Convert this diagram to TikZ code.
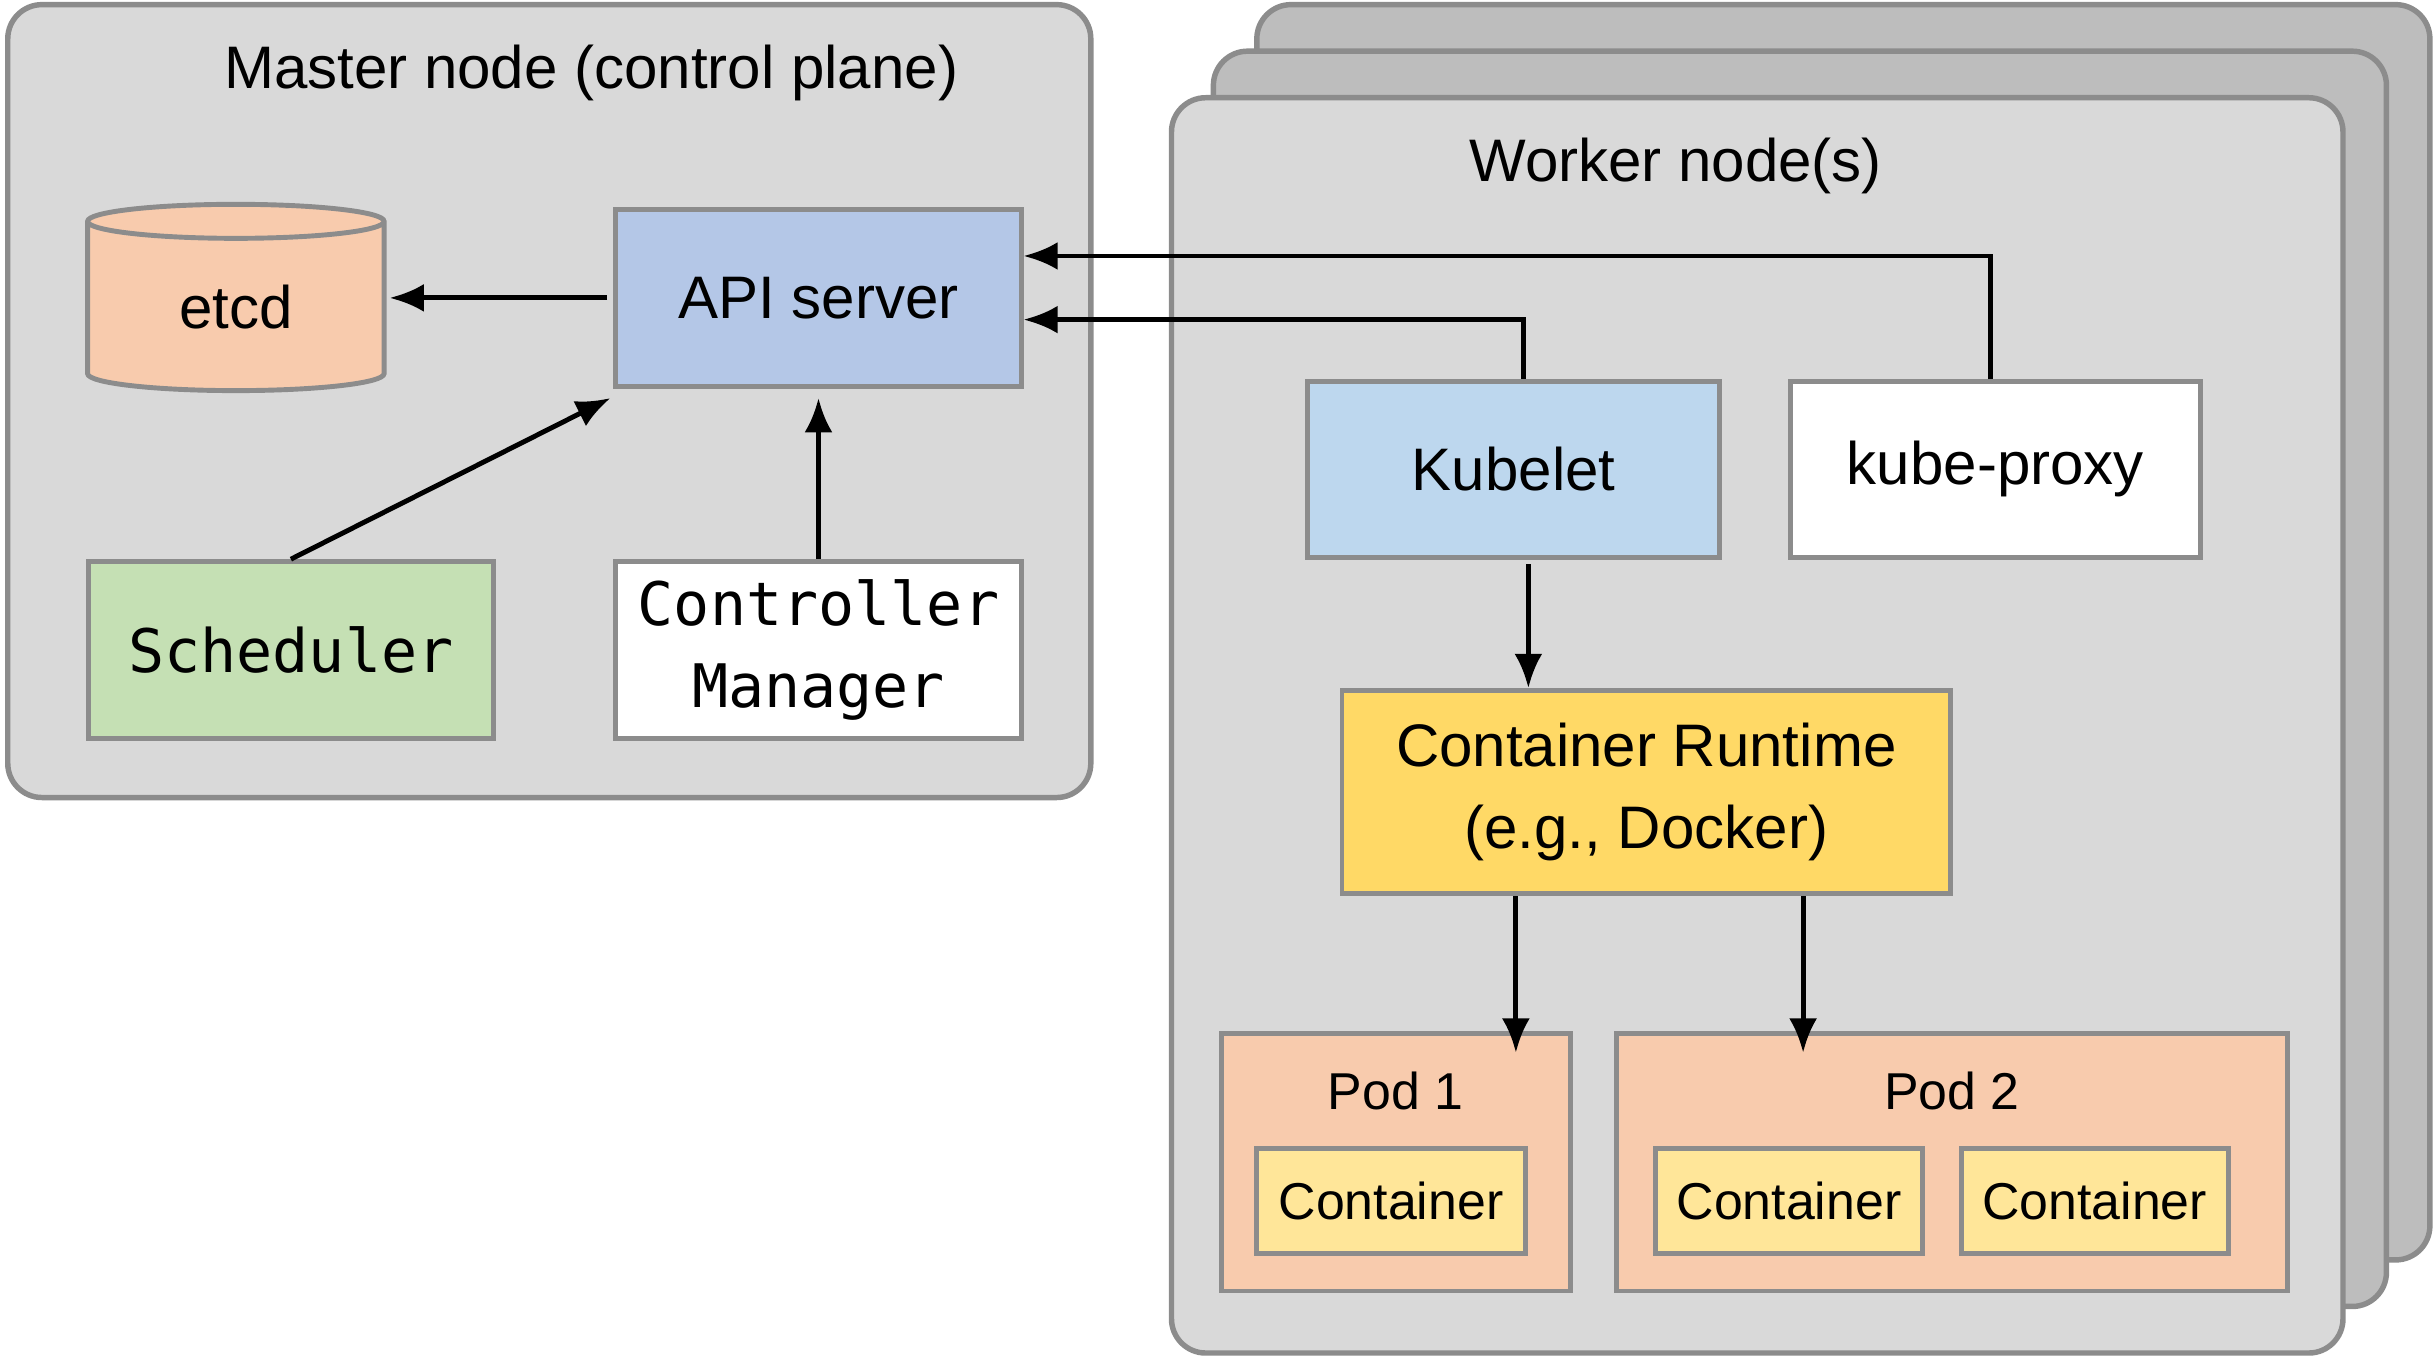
\documentclass[tikz,border=0pt]{standalone}
\usepackage{fontspec}
\setmainfont{Liberation Sans}
\setmonofont{DejaVu Sans Mono}
\usetikzlibrary{shapes.geometric,arrows.meta}
\definecolor{panel}{HTML}{D9D9D9}
\definecolor{stack}{HTML}{BDBDBD}
\definecolor{edge}{HTML}{8C8C8C}
\definecolor{apiblue}{HTML}{B4C7E7}
\definecolor{kubeblue}{HTML}{BDD7EE}
\definecolor{schedgreen}{HTML}{C5E0B4}
\definecolor{runyellow}{HTML}{FFD966}
\definecolor{podpeach}{HTML}{F8CBAD}
\definecolor{boxyellow}{HTML}{FFE699}
\tikzset{
  comp/.style={
    % The shape:
    shape=rectangle,
    % The border:
    draw=edge,line width=0.9pt,
    % The text:
    font=\fontsize{11}{13}\selectfont,align=center,inner sep=0pt},
  panelbox/.style={draw=edge,line width=1pt,rounded corners=2.2mm,fill=panel},
  link/.style={-{Latex[length=2.2mm,width=1.8mm]},line width=0.9pt}}

\begin{document}
\begin{tikzpicture}[x=0.01cm,y=-0.01cm]
	\useasboundingbox (0,0) rectangle (1568,874);
	% Panels
	\draw[panelbox] (5,3) rectangle (703,514);
	\draw[panelbox,fill=stack] (810,3) rectangle (1566,812);
	\draw[panelbox,fill=stack] (782,33) rectangle (1538,842);
	\draw[panelbox] (755,63) rectangle (1510,872);
	\node[font=\fontsize{11}{13}\selectfont] (mtitle) at (381,47) {Master node (control plane)};
	\node[font=\fontsize{11}{13}\selectfont] (wtitle) at (1080,107) {Worker node(s)};
	% Master components
	\node[comp,cylinder,shape border rotate=90,aspect=0.3,minimum width=1.91cm,minimum height=1.2cm,
		fill=podpeach,cylinder uses custom fill,cylinder body fill=podpeach,cylinder end fill=podpeach!60!white]
		(etcd) at (152,198) {etcd};
	\node[comp,fill=apiblue,minimum width=2.61cm,minimum height=1.14cm] (api) at (527.5,192) {API server};
	\node[comp,fill=schedgreen,minimum width=2.61cm,minimum height=1.14cm,font=\fontsize{11}{13}\ttfamily] (sched) at (187.5,419) {Scheduler};
	\node[comp,fill=white,minimum width=2.61cm,minimum height=1.14cm,font=\fontsize{11}{15}\ttfamily] (ctrl) at (527.5,419) {Controller\\Manager};
	% Worker components
	\node[comp,fill=kubeblue,minimum width=2.65cm,minimum height=1.13cm] (kubelet) at (975.5,302.5) {Kubelet};
	\node[comp,fill=white,minimum width=2.64cm,minimum height=1.13cm] (proxy) at (1286,302.5) {kube-proxy};
	\node[comp,fill=runyellow,minimum width=3.92cm,minimum height=1.31cm,font=\fontsize{11}{15}\selectfont] (runtime) at (1061,510.5) {Container Runtime\\(e.g., Docker)};
	\node[comp,fill=podpeach,minimum width=2.25cm,minimum height=1.66cm] (pod1) at (899.5,749) {};
	\node[comp,fill=podpeach,minimum width=4.32cm,minimum height=1.66cm] (pod2) at (1258,749) {};
	\node[font=\fontsize{9.5}{11}\selectfont] (pod1t) at (899.5,703) {Pod 1};
	\node[font=\fontsize{9.5}{11}\selectfont] (pod2t) at (1258,703) {Pod 2};
	\node[comp,fill=boxyellow,minimum width=1.73cm,minimum height=0.68cm,font=\fontsize{9.5}{11}\selectfont] (c1) at (896.5,774) {Container};
	\node[comp,fill=boxyellow,minimum width=1.72cm,minimum height=0.68cm,font=\fontsize{9.5}{11}\selectfont] (c2) at (1153,774) {Container};
	\node[comp,fill=boxyellow,minimum width=1.72cm,minimum height=0.68cm,font=\fontsize{9.5}{11}\selectfont] (c3) at (1350,774) {Container};
	% Connectors
	\draw[link] ([xshift=-0.04cm]api.west) -- ([xshift=0.02cm]etcd.east |- api.west);
	\draw[link] ([yshift=0.0cm]sched.north) -- ([xshift=-0.02cm,yshift=-0.06cm]api.south west);
	\draw[link] (ctrl.north) -- ([yshift=-0.06cm]api.south);
	\draw[link] ([xshift=-0.03cm]proxy.north) |- ([yshift=0.27cm]api.east);
	\draw[link] ([xshift=0.065cm]kubelet.north) |- ([yshift=-0.14cm]api.east);
	\draw[link] ([xshift=0.095cm,yshift=-0.03cm]kubelet.south) -- ([xshift=0.095cm]kubelet.south |- runtime.north);
	\draw[link] ([xshift=-0.84cm]runtime.south) -- ([xshift=-0.84cm,yshift=-0.14cm]runtime.south |- pod1.north);
	\draw[link] ([xshift=1.01cm]runtime.south) -- ([xshift=1.01cm,yshift=-0.14cm]runtime.south |- pod2.north);
\end{tikzpicture}
\end{document}
